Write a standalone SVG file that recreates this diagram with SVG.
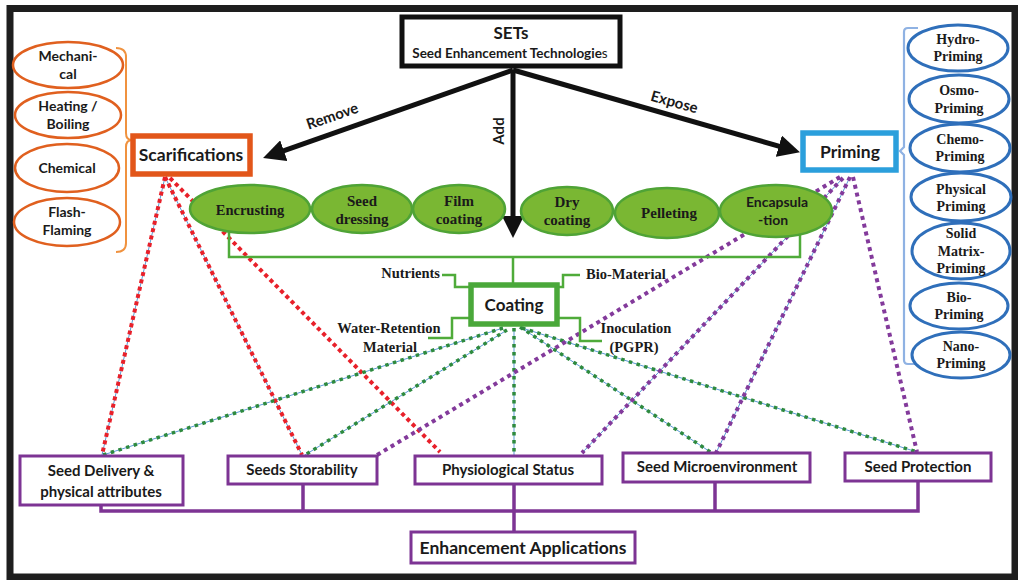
<svg xmlns="http://www.w3.org/2000/svg" width="1018" height="580" viewBox="0 0 1018 580">
  <defs>
    <style>
      .sans { font-family: Lato, "Liberation Sans", sans-serif; font-weight: 700; fill: #1a1a1a; }
      .serif { font-family: "Liberation Serif", "Times New Roman", serif; font-weight: 700; fill: #1a1a1a; }
      .orange-oval { fill: #ffffff; stroke: #e0601f; stroke-width: 2.5; }
      .blue-oval { fill: #ffffff; stroke: #2f6fba; stroke-width: 3; }
      .green-oval { fill: #7ab733; stroke: #4fa336; stroke-width: 2.5; }
      .app-box { fill: #ffffff; stroke: #7d3494; stroke-width: 3; }
      .arrow { stroke: #111111; stroke-width: 5; fill: none; }
      .green-link { stroke: #4fab3a; stroke-width: 2.5; fill: none; }
      .bus { stroke: #7d3494; stroke-width: 3.5; fill: none; }
      .guide { stroke: #5b9bd5; stroke-width: 1; fill: none; }
      .dot-red { stroke: #e8202a; stroke-width: 4; stroke-dasharray: 4 3.5; fill: none; }
      .dot-green { stroke: #2e8a3e; stroke-width: 3.5; stroke-dasharray: 3.5 4.5; fill: none; }
      .dot-purple { stroke: #833a9b; stroke-width: 4; stroke-dasharray: 4 4; fill: none; }
    </style>
    <marker id="head" viewBox="0 0 22 22" markerWidth="22" markerHeight="22" refX="8" refY="11" orient="auto" markerUnits="userSpaceOnUse">
      <path d="M0,0 L22,11 L0,22 z" fill="#111111"/>
    </marker>
  </defs>

  <!-- frame -->
  <rect x="10" y="8.5" width="1005" height="568.5" fill="#ffffff" stroke="#1e1e1e" stroke-width="7"/>

  <!-- connectors -->
  <g id="connectors">
    <!-- dotted relations to the enhancement applications -->
    <g id="dotted">
      <path class="guide" d="M165,177 L102,455 M165,177 L302,455 M503,328 L103,455 M507,330 L305,455 M514,328 L514,455 M520,327 L715,455 M522,328 L917,452 M850,177 L715,455 M843,178 L582,453"/>
      <path class="dot-red" d="M165,177 L102,455"/>
      <path class="dot-red" d="M165,177 L302,455"/>
      <path class="dot-red" d="M170,178 L440,452"/>
      <path class="dot-green" d="M503,328 L103,455"/>
      <path class="dot-green" d="M507,330 L305,455"/>
      <path class="dot-green" d="M514,328 L514,455"/>
      <path class="dot-green" d="M520,327 L715,455"/>
      <path class="dot-green" d="M522,328 L917,452"/>
      <path class="dot-purple" d="M840,177 L377,455"/>
      <path class="dot-purple" d="M843,178 L582,453"/>
      <path class="dot-purple" d="M850,177 L715,455"/>
      <path class="dot-purple" d="M853,177 L917,452"/>
    </g>

    <!-- main arrows from SETs -->
    <path class="arrow" d="M513,70 L276.3,153.4" marker-end="url(#head)"/>
    <path class="arrow" d="M513,70 L513,224" marker-end="url(#head)"/>
    <path class="arrow" d="M513,70 L786.5,148.3" marker-end="url(#head)"/>
    <text class="sans" font-size="15" text-anchor="middle" transform="translate(334,121) rotate(-19)">Remove</text>
    <text class="sans" font-size="15" text-anchor="middle" transform="translate(504,131) rotate(-90)">Add</text>
    <text class="sans" font-size="15" text-anchor="middle" transform="translate(673,107) rotate(15.6)">Expose</text>

    <!-- brackets -->
    <path d="M116,48 Q126,48 126,57 L126,133 Q126,140 132,140 Q126,140 126,147 L126,243 Q126,252 116,252" stroke="#f0923f" stroke-width="2" fill="none"/>
    <path d="M918,28 H908 Q904,28 904,32 V147 L900,151 L904,155 V360 Q904,364 908,364 H918" stroke="#8fb2e3" stroke-width="2.2" fill="none"/>

    <!-- coating tree -->
    <path class="green-link" d="M229,233 V257 H800 V233 M513,257 V284"/>
    <path class="green-link" d="M442,275 H455 V287 H470"/>
    <path class="green-link" d="M558,287 H563 V275 H580"/>
    <path class="green-link" d="M470,318 H452 V338 H428"/>
    <path class="green-link" d="M558,318 H580 V341 H602"/>

    <!-- application bus -->
    <path class="bus" d="M101,505 V511 H918 V481 M303,484 V511 M514,484 V532 M715,482 V511"/>
  </g>

  <!-- top node -->
  <g id="sets">
    <rect x="402" y="17" width="218" height="49" fill="#ffffff" stroke="#111111" stroke-width="5"/>
    <text class="sans" font-size="17" text-anchor="middle" x="511" y="39">SETs</text>
    <text class="sans" font-size="13.5" text-anchor="middle" x="510" y="58">Seed Enhancement Technologie<tspan font-weight="400">s</tspan></text>
  </g>

  <!-- scarification branch -->
  <g id="scarifications">
    <rect x="133" y="136" width="117" height="38" fill="#ffffff" stroke="#e2561a" stroke-width="5.5"/>
    <text class="sans" font-size="17.5" text-anchor="middle" x="191" y="161">Scarifications</text>
  </g>
  <g id="mechanical">
    <ellipse class="orange-oval" cx="68" cy="65" rx="55" ry="23"/>
    <text class="sans" font-size="14" text-anchor="middle" x="68" y="61">Mechani-</text>
    <text class="sans" font-size="14" text-anchor="middle" x="68" y="79">cal</text>
  </g>
  <g id="heating">
    <ellipse class="orange-oval" cx="68" cy="115" rx="53" ry="23"/>
    <text class="sans" font-size="14" text-anchor="middle" x="68" y="111">Heating /</text>
    <text class="sans" font-size="14" text-anchor="middle" x="68" y="129">Boiling</text>
  </g>
  <g id="chemical">
    <ellipse class="orange-oval" cx="67" cy="168" rx="52" ry="24"/>
    <text class="sans" font-size="14" text-anchor="middle" x="67" y="173">Chemical</text>
  </g>
  <g id="flash-flaming">
    <ellipse class="orange-oval" cx="67" cy="222" rx="53" ry="24"/>
    <text class="sans" font-size="14" text-anchor="middle" x="67" y="217">Flash-</text>
    <text class="sans" font-size="14" text-anchor="middle" x="67" y="235">Flaming</text>
  </g>

  <!-- coating branch -->
  <g id="encrusting">
    <ellipse class="green-oval" cx="250" cy="209" rx="60" ry="24"/>
    <text class="serif" font-size="14.5" text-anchor="middle" x="250" y="215">Encrusting</text>
  </g>
  <g id="seed-dressing">
    <ellipse class="green-oval" cx="362" cy="209" rx="50" ry="24"/>
    <text class="serif" font-size="15" text-anchor="middle" x="362" y="206">Seed</text>
    <text class="serif" font-size="15" text-anchor="middle" x="362" y="224">dressing</text>
  </g>
  <g id="film-coating">
    <ellipse class="green-oval" cx="459" cy="209" rx="46" ry="24"/>
    <text class="serif" font-size="15" text-anchor="middle" x="459" y="206">Film</text>
    <text class="serif" font-size="15" text-anchor="middle" x="459" y="224">coating</text>
  </g>
  <g id="dry-coating">
    <ellipse class="green-oval" cx="567" cy="211" rx="46" ry="24"/>
    <text class="serif" font-size="15" text-anchor="middle" x="567" y="207">Dry</text>
    <text class="serif" font-size="15" text-anchor="middle" x="567" y="225">coating</text>
  </g>
  <g id="pelleting">
    <ellipse class="green-oval" cx="667" cy="213" rx="52" ry="25"/>
    <text class="serif" font-size="15" text-anchor="middle" x="669" y="218">Pelleting</text>
  </g>
  <g id="encapsulation">
    <ellipse class="green-oval" cx="776" cy="211" rx="56" ry="26"/>
    <text class="sans" font-size="14" text-anchor="middle" x="777" y="207">Encapsula</text>
    <text class="sans" font-size="14" text-anchor="middle" x="773" y="225">-tion</text>
  </g>

  <g id="coating">
    <rect x="471" y="285" width="86" height="39" fill="#ffffff" stroke="#4aa83a" stroke-width="5.5"/>
    <text class="sans" font-size="17" text-anchor="middle" x="514" y="311">Coating</text>
  </g>
  <g id="nutrients">
    <text class="serif" font-size="14.5" text-anchor="end" x="440" y="278">Nutrients</text>
  </g>
  <g id="bio-material">
    <text class="serif" font-size="14.5" x="586" y="279">Bio-Material</text>
  </g>
  <g id="water-retention">
    <text class="serif" font-size="14.5" text-anchor="middle" x="389" y="333">Water-Retention</text>
    <text class="serif" font-size="14.5" text-anchor="middle" x="390" y="352">Material</text>
  </g>
  <g id="inoculation">
    <text class="serif" font-size="14.5" text-anchor="middle" x="636" y="333">Inoculation</text>
    <text class="serif" font-size="14.5" text-anchor="middle" x="634" y="352">(PGPR)</text>
  </g>

  <!-- priming branch -->
  <g id="priming">
    <rect x="803" y="133" width="93" height="37" fill="#ffffff" stroke="#2b9fdc" stroke-width="5.5"/>
    <text class="sans" font-size="17.5" text-anchor="middle" x="850" y="158">Priming</text>
  </g>
  <g id="hydro-priming">
    <ellipse class="blue-oval" cx="958" cy="48" rx="50" ry="23"/>
    <text class="serif" font-size="14" text-anchor="middle" x="958" y="44">Hydro-</text>
    <text class="serif" font-size="14" text-anchor="middle" x="958" y="61">Priming</text>
  </g>
  <g id="osmo-priming">
    <ellipse class="blue-oval" cx="959" cy="99" rx="50" ry="24"/>
    <text class="serif" font-size="14" text-anchor="middle" x="959" y="95">Osmo-</text>
    <text class="serif" font-size="14" text-anchor="middle" x="959" y="113">Priming</text>
  </g>
  <g id="chemo-priming">
    <ellipse class="blue-oval" cx="960" cy="148" rx="50" ry="24"/>
    <text class="serif" font-size="14" text-anchor="middle" x="960" y="144">Chemo-</text>
    <text class="serif" font-size="14" text-anchor="middle" x="960" y="161">Priming</text>
  </g>
  <g id="physical-priming">
    <ellipse class="blue-oval" cx="961" cy="197" rx="50" ry="24"/>
    <text class="serif" font-size="14" text-anchor="middle" x="961" y="194">Physical</text>
    <text class="serif" font-size="14" text-anchor="middle" x="961" y="211">Priming</text>
  </g>
  <g id="solid-matrix-priming">
    <ellipse class="blue-oval" cx="961" cy="251" rx="49" ry="28"/>
    <text class="serif" font-size="14" text-anchor="middle" x="961" y="238">Solid</text>
    <text class="serif" font-size="14" text-anchor="middle" x="961" y="256">Matrix-</text>
    <text class="serif" font-size="14" text-anchor="middle" x="961" y="273">Priming</text>
  </g>
  <g id="bio-priming">
    <ellipse class="blue-oval" cx="959" cy="306" rx="49" ry="23"/>
    <text class="serif" font-size="14" text-anchor="middle" x="959" y="302">Bio-</text>
    <text class="serif" font-size="14" text-anchor="middle" x="959" y="319">Priming</text>
  </g>
  <g id="nano-priming">
    <ellipse class="blue-oval" cx="961" cy="355" rx="49" ry="23"/>
    <text class="serif" font-size="14" text-anchor="middle" x="961" y="351">Nano-</text>
    <text class="serif" font-size="14" text-anchor="middle" x="961" y="368">Priming</text>
  </g>

  <!-- enhancement applications -->
  <g id="seed-delivery">
    <rect class="app-box" x="20" y="456" width="163" height="49"/>
    <text class="sans" font-size="15" text-anchor="middle" x="101" y="476">Seed Delivery &amp;</text>
    <text class="sans" font-size="15" text-anchor="middle" x="101" y="497">physical  attributes</text>
  </g>
  <g id="seeds-storability">
    <rect class="app-box" x="228" y="456" width="149" height="28"/>
    <text class="sans" font-size="15" text-anchor="middle" x="302" y="475">Seeds Storability</text>
  </g>
  <g id="physiological-status">
    <rect class="app-box" x="415" y="456" width="187" height="28"/>
    <text class="sans" font-size="15" text-anchor="middle" x="508" y="475">Physiological  Status</text>
  </g>
  <g id="seed-microenvironment">
    <rect class="app-box" x="623" y="453" width="187" height="29"/>
    <text class="sans" font-size="15" text-anchor="middle" x="717" y="472">Seed Microenvironment</text>
  </g>
  <g id="seed-protection">
    <rect class="app-box" x="845" y="453" width="146" height="28"/>
    <text class="sans" font-size="15" text-anchor="middle" x="918" y="472">Seed Protection</text>
  </g>
  <g id="enhancement-applications">
    <rect class="app-box" x="411" y="532" width="224" height="31" stroke-width="3.5"/>
    <text class="sans" font-size="17.5" text-anchor="middle" x="523" y="554">Enhancement Applications</text>
  </g>
</svg>
